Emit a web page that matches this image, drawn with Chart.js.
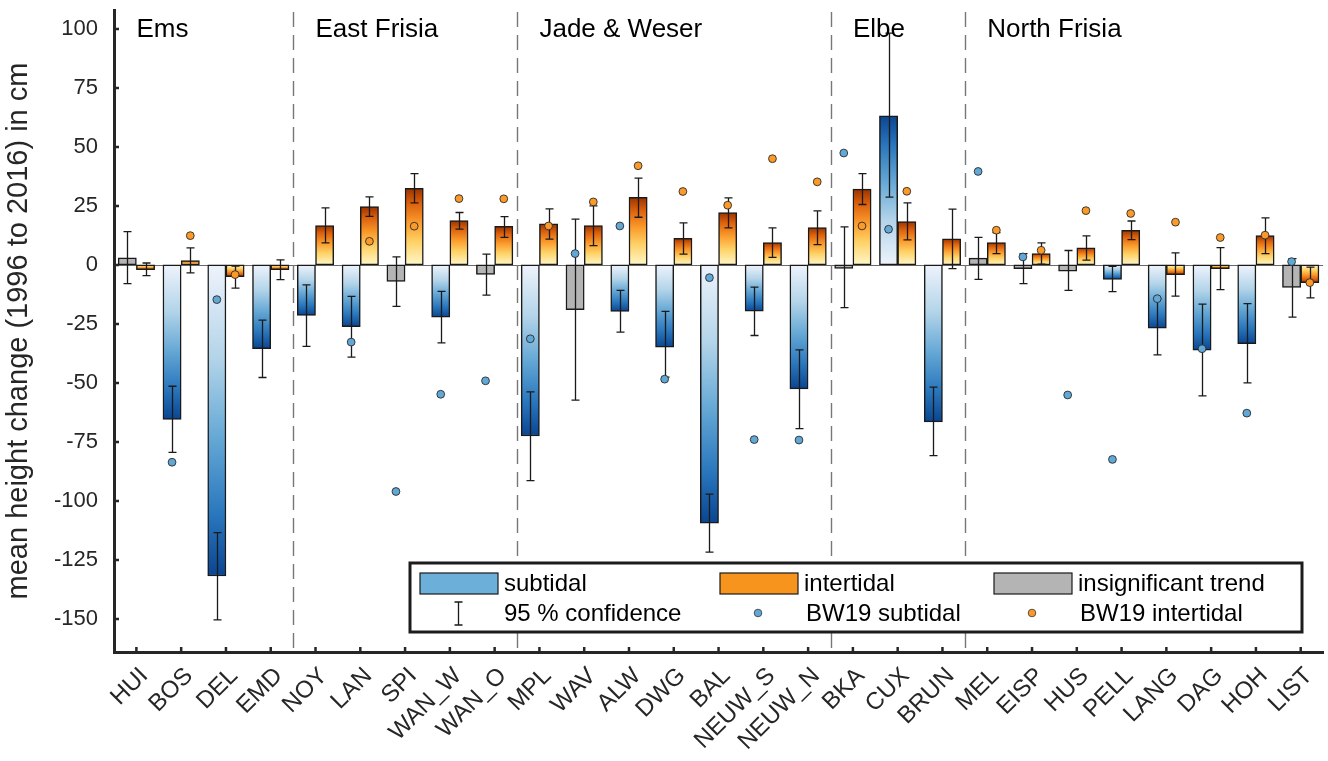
<!DOCTYPE html>
<html>
<head>
<meta charset="utf-8">
<script src="https://cdn.jsdelivr.net/npm/chart.js@4.4.1/dist/chart.umd.min.js"></script>
<style>
  html, body { margin: 0; padding: 0; background: #fff; }
  #wrap { width: 1328px; height: 761px; }
</style>
</head>
<body>
<div id="wrap"><canvas id="chart"></canvas></div>
<script>
// stations, west to east / south to north
const stations = ['HUI','BOS','DEL','EMD','NOY','LAN','SPI','WAN_W','WAN_O','MPL','WAV','ALW','DWG','BAL','NEUW_S','NEUW_N','BKA','CUX','BRUN','MEL','EISP','HUS','PELL','LANG','DAG','HOH','LIST']
const regionNames = ['Ems','East Frisia','Jade & Weser','Elbe','North Frisia']
const regionStart = [0, 4, 9, 16, 19]

// mean height change 1996-2016 in cm
const subtidal   = [3.0, -65.5, -131.8, -35.5, -21.4, -26.2, -7.0, -22.1, -4.0, -72.5, -19.0, -19.7, -34.8, -109.4, -19.6, -52.5, -1.5, 63.2, -66.5, 2.9, -1.6, -2.6, -6.1, -26.8, -36.1, -33.4, -9.5]
const subLow     = [-7.9, -79.4, -150.4, -47.7, -34.5, -39.1, -17.6, -33.0, -12.8, -91.4, -57.3, -28.5, -47.5, -121.7, -29.9, -69.4, -18.1, 28.7, -80.8, -6.1, -7.9, -10.8, -11.3, -38.1, -55.5, -50.0, -22.1]
const subHigh    = [14.1, -51.4, -113.4, -23.4, -8.5, -13.3, 3.4, -11.2, 4.6, -53.8, 19.4, -10.8, -19.7, -97.1, -9.4, -36.0, 16.1, 98.2, -51.8, 11.7, 4.8, 6.1, -0.6, -14.3, -16.6, -16.4, 2.7]
const subSignificant = [false,true,true,true,true,true,false,true,false,true,false,true,true,true,true,true,false,true,true,false,false,false,true,true,true,true,false]

const intertidal = [-2.0, 1.8, -5.0, -2.0, 16.7, 24.7, 32.4, 18.8, 16.3, 17.4, 16.7, 28.6, 11.3, 22.2, 9.5, 15.8, 32.1, 18.4, 11.0, 9.5, 4.8, 7.2, 14.7, -4.1, -1.6, 12.4, -7.5]
const intLow     = [-4.5, -3.4, -9.8, -6.2, 9.3, 20.6, 26.3, 15.2, 11.7, 10.9, 8.2, 20.2, 4.6, 15.7, 3.2, 8.6, 25.6, 10.6, -1.6, 4.8, 0.3, 2.0, 10.7, -13.2, -10.5, 4.8, -14.0]
const intHigh    = [0.8, 7.2, -0.5, 2.1, 24.2, 28.8, 38.7, 22.2, 20.5, 23.7, 25.0, 36.8, 17.8, 28.4, 15.7, 22.9, 38.7, 26.3, 23.6, 13.7, 9.3, 12.3, 18.6, 5.1, 7.3, 19.9, -0.9]
const intSignificant = stations.map(() => true)

// BW19 comparison values
const bw19Sub = [null, -83.6, -14.7, null, null, -32.7, -96.0, -54.8, -49.1, -31.3, 4.8, 16.5, -48.4, -5.4, -74.0, -74.2, 47.4, 15.1, null, 39.6, 3.4, -55.1, -82.4, -14.3, -35.5, -62.8, 1.4]
const bw19Int = [null, 12.4, -4.1, null, null, 10.0, 16.4, 28.1, 28.0, 16.5, 26.7, 42.0, 31.1, 25.3, 45.0, 35.2, 16.5, 31.2, null, 14.7, 6.2, 23.0, 21.8, 18.1, 11.6, 12.6, -7.5]

const yTicks = [-150, -125, -100, -75, -50, -25, 0, 25, 50, 75, 100]

const BLUE = [[0, '#eef3fc'], [0.3, '#b3d4e9'], [0.55, '#67a9d6'], [0.8, '#2a77bd'], [1, '#0a4592']]
const ORANGE = [[0, '#fff7c9'], [0.3, '#fed267'], [0.55, '#fb9c2c'], [0.8, '#dd620e'], [1, '#9a3300']]
const GRAY = '#b4b4b4'
const INK = '#262626'
const FONT = '"Liberation Sans", Arial, sans-serif'
const SHIFT = 0.20375   // half bar width, in station units

Chart.defaults.font.family = FONT
Chart.defaults.color = INK

function barFill(stops, significant) {
  return (c) => {
    if (c.type !== 'data') return stops[2][1]
    if (!significant[c.dataIndex]) return GRAY
    const chart = c.chart
    const y = chart.scales.y
    if (!chart.chartArea || !y) return stops[2][1]
    const y0 = y.getPixelForValue(0)
    const y1 = y.getPixelForValue(c.parsed.y)
    if (Math.abs(y1 - y0) < 1) return stops[2][1]
    const g = chart.ctx.createLinearGradient(0, y0, 0, y1)
    stops.forEach(([o, col]) => g.addColorStop(o, col))
    return g
  }
}

function placed(values, shift) {
  const out = []
  values.forEach((v, i) => { if (v !== null) out.push({ x: i + 1 + shift, y: v }) })
  return out
}

function errorBars(chart) {
  const { ctx } = chart
  const y = chart.scales.y
  ctx.save()
  ctx.strokeStyle = '#1a1a1a'
  ctx.lineWidth = 1.3
  ;[[2, subLow, subHigh], [3, intLow, intHigh]].forEach(([di, lo, hi]) => {
    chart.getDatasetMeta(di).data.forEach((bar, i) => {
      const x = Math.round(bar.x) + 0.5
      const a = y.getPixelForValue(lo[i]), b = y.getPixelForValue(hi[i])
      ctx.beginPath()
      ctx.moveTo(x, a); ctx.lineTo(x, b)
      ctx.moveTo(x - 4, a); ctx.lineTo(x + 4, a)
      ctx.moveTo(x - 4, b); ctx.lineTo(x + 4, b)
      ctx.stroke()
    })
  })
  ctx.restore()
}

function drawLegend(chart) {
  const { ctx, chartArea: ca } = chart
  const L = ca.left + 296, T = ca.bottom - 89, W = 892, H = 69
  ctx.save()
  ctx.fillStyle = '#fff'
  ctx.fillRect(L, T, W, H)
  ctx.lineWidth = 3
  ctx.strokeStyle = '#1c1c1c'
  ctx.strokeRect(L, T, W, H)

  const r1 = T + 20.5, r2 = T + 50
  const swatches = [['subtidal', '#6cb0da', 10], ['intertidal', '#f7941e', 310], ['insignificant trend', GRAY, 584]]
  ctx.font = '24px ' + FONT
  ctx.textBaseline = 'middle'
  swatches.forEach(([label, col, dx]) => {
    ctx.fillStyle = col
    ctx.fillRect(L + dx, r1 - 10.5, 78, 21)
    ctx.lineWidth = 1.2
    ctx.strokeStyle = '#1a1a1a'
    ctx.strokeRect(L + dx, r1 - 10.5, 78, 21)
    ctx.fillStyle = '#000'
    ctx.fillText(label, L + dx + 84, r1 + 1)
  })

  // confidence interval glyph
  const ex = L + 48.5
  ctx.strokeStyle = '#1a1a1a'
  ctx.lineWidth = 1.3
  ctx.beginPath()
  ctx.moveTo(ex, r2 - 11); ctx.lineTo(ex, r2 + 12)
  ctx.moveTo(ex - 4, r2 - 11); ctx.lineTo(ex + 4, r2 - 11)
  ctx.moveTo(ex - 4, r2 + 12); ctx.lineTo(ex + 4, r2 + 12)
  ctx.stroke()
  ctx.fillStyle = '#000'
  ctx.fillText('95 % confidence', L + 94, r2 + 1)

  ;[['BW19 subtidal', '#62a8d6', 348, 396], ['BW19 intertidal', '#fb9a29', 622, 670]].forEach(([label, col, dx, tx]) => {
    ctx.beginPath()
    ctx.arc(L + dx, r2, 3.8, 0, Math.PI * 2)
    ctx.fillStyle = col
    ctx.fill()
    ctx.lineWidth = 0.8
    ctx.strokeStyle = '#333'
    ctx.stroke()
    ctx.fillStyle = '#000'
    ctx.fillText(label, L + tx, r2 + 1)
  })
  ctx.restore()
}

const decor = {
  id: 'decor',
  beforeDatasetsDraw(chart) {
    const { ctx, chartArea: ca, scales: { x, y } } = chart
    ctx.save()
    // zero line
    const y0 = Math.round(y.getPixelForValue(0)) + 0.5
    ctx.strokeStyle = '#6a6a6a'
    ctx.lineWidth = 1
    ctx.beginPath(); ctx.moveTo(ca.left, y0); ctx.lineTo(ca.right, y0); ctx.stroke()
    // region separators
    ctx.strokeStyle = '#777'
    ctx.lineWidth = 1.4
    ctx.setLineDash([15, 8])
    regionStart.slice(1).forEach((s) => {
      const px = Math.round(x.getPixelForValue(s + 0.5)) + 0.5
      ctx.beginPath(); ctx.moveTo(px, ca.top + 2); ctx.lineTo(px, ca.bottom); ctx.stroke()
    })
    ctx.restore()
  },
  afterDatasetDraw(chart, args) {
    if (args.index === 2) errorBars(chart)
  },
  afterDraw(chart) {
    const { ctx, chartArea: ca, scales: { x, y } } = chart
    ctx.save()
    // inward tick marks
    ctx.strokeStyle = INK
    ctx.lineWidth = 2.5
    ctx.beginPath()
    yTicks.forEach((v) => {
      const py = y.getPixelForValue(v)
      ctx.moveTo(ca.left, py); ctx.lineTo(ca.left + 5, py)
    })
    stations.forEach((s, i) => {
      const px = x.getPixelForValue(i + 1)
      ctx.moveTo(px, ca.bottom); ctx.lineTo(px, ca.bottom - 5)
    })
    ctx.stroke()
    // region names
    ctx.fillStyle = '#000'
    ctx.font = '26px ' + FONT
    ctx.textBaseline = 'alphabetic'
    regionNames.forEach((name, k) => {
      ctx.fillText(name, x.getPixelForValue(regionStart[k] + 1), ca.top + 27)
    })
    ctx.restore()
    drawLegend(chart)
  }
}

const barStyle = {
  type: 'bar', order: 1, grouped: false,
  borderColor: '#1a1a1a', borderWidth: 1.5, borderSkipped: false,
  categoryPercentage: 1, barPercentage: 1
}
const dotStyle = {
  type: 'line', order: 0, showLine: false,
  pointRadius: 3.9, pointBorderColor: '#2b2b2b', pointBorderWidth: 0.9
}

new Chart(document.getElementById('chart'), {
  data: {
    datasets: [
      { ...dotStyle, label: 'BW19 subtidal', data: placed(bw19Sub, -SHIFT), pointBackgroundColor: '#62a8d6' },
      { ...dotStyle, label: 'BW19 intertidal', data: placed(bw19Int, SHIFT), pointBackgroundColor: '#fb9a29' },
      { ...barStyle, label: 'subtidal', data: placed(subtidal, -SHIFT), backgroundColor: barFill(BLUE, subSignificant) },
      { ...barStyle, label: 'intertidal', data: placed(intertidal, SHIFT), backgroundColor: barFill(ORANGE, intSignificant) }
    ]
  },
  options: {
    responsive: true,
    maintainAspectRatio: false,
    animation: false,
    layout: { padding: { top: 10, right: 2, left: 0, bottom: 0 } },
    plugins: { legend: { display: false }, tooltip: { enabled: false } },
    scales: {
      x: {
        type: 'linear',
        offset: false,
        min: 0.5, max: stations.length + 0.5,
        grid: { display: false, drawTicks: false, offset: false },
        border: { display: true, width: 3, color: INK },
        afterBuildTicks(scale) { scale.ticks = stations.map((s, i) => ({ value: i + 1 })) },
        ticks: {
          autoSkip: false, minRotation: 45, maxRotation: 45,
          padding: 10, labelOffset: 8,
          font: { size: 24 }, color: INK,
          callback: (v) => stations[v - 1]
        },
        afterFit(scale) {
          scale.height = 109
          scale.paddingLeft = 0
          scale.paddingRight = 0
        }
      },
      y: {
        min: -164, max: 108,
        grid: { display: false, drawTicks: false },
        border: { display: true, width: 3, color: INK },
        afterBuildTicks(scale) { scale.ticks = yTicks.map((v) => ({ value: v })) },
        ticks: { padding: 16, font: { size: 22 }, color: INK },
        title: {
          display: true, text: 'mean height change (1996 to 2016) in cm',
          font: { size: 29 }, color: INK, padding: { top: 2, bottom: 0 }
        },
        afterFit(scale) {
          scale.width = 114
          scale.paddingTop = 0
          scale.paddingBottom = 0
        }
      }
    }
  },
  plugins: [decor]
})
</script>
</body>
</html>
